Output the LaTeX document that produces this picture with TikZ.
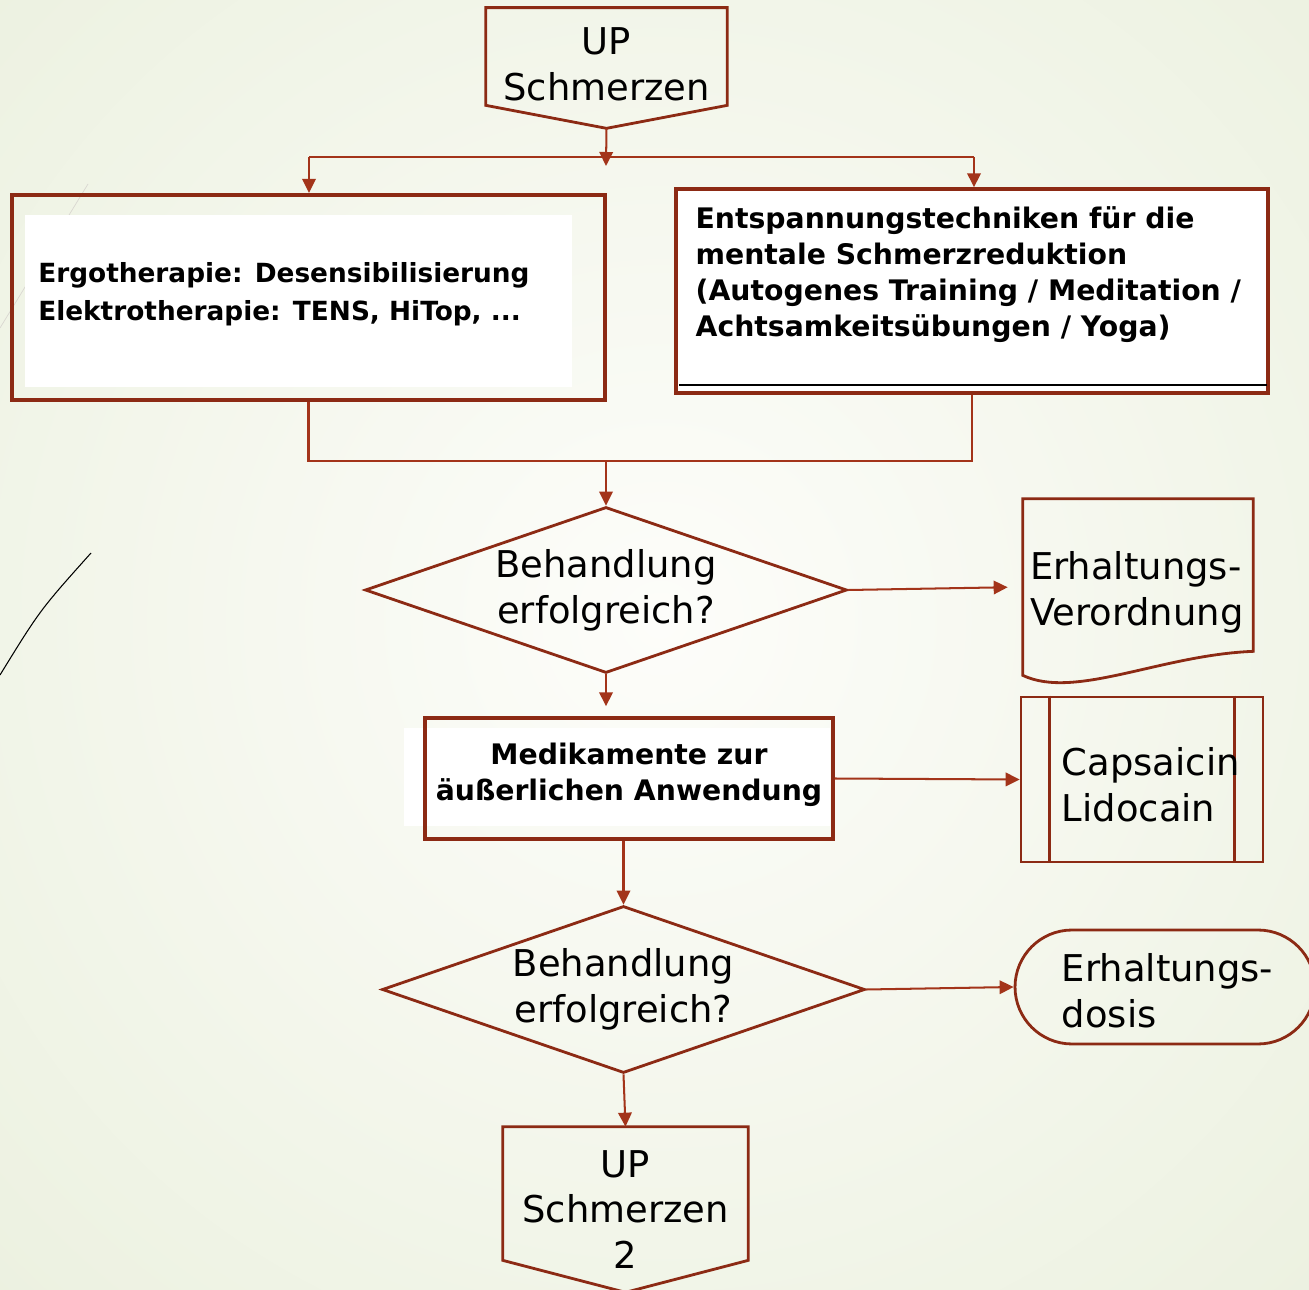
\documentclass[tikz,border=0pt]{standalone}
\usepackage{fontspec}
\setmainfont{DejaVu Sans}
\usetikzlibrary{shapes.geometric, arrows.meta, calc, positioning}
\definecolor{flowred}{RGB}{140,42,20}
\definecolor{linkred}{RGB}{163,52,26}
\definecolor{bgin}{RGB}{253,253,250}
\definecolor{bgout}{RGB}{226,234,209}
\definecolor{stroke}{RGB}{128,122,100}

\begin{document}
\begin{tikzpicture}[x=0.02cm, y=-0.02cm, >={Triangle[length=0.28cm, width=0.27cm]},
        main/.style = {draw=none, inner sep=0pt, font=\fontsize{21}{26}\selectfont, align=center},
        plain/.style = {draw=none, inner sep=0pt, font=\fontsize{15}{21.5}\selectfont\bfseries, align=left},
        box/.style = {rectangle, draw=flowred, line width=2pt, inner sep=0pt},
        outline/.style = {draw=flowred, line width=1.6pt},
        decision/.style = {diamond, draw=flowred, line width=1.6pt, inner sep=0pt, aspect=2.9,
            font=\fontsize{21}{26}\selectfont, align=center},
        link/.style = {draw=linkred, line width=1.15pt}]
            \useasboundingbox (0,0) rectangle (1309,1290);
            \shade[inner color=bgin, outer color=bgout] (660,620) circle (1500);
            \draw[stroke, line width=0.6pt] (0,675) .. controls (40,610) .. (91,553);
            \draw[stroke!30, line width=0.4pt] (88,184) -- (0,328);

            % start
            \node[main, minimum width=4.82cm, minimum height=2.4cm] (up) at (606.5,68) {};
            \node[main, yshift=0.07cm] (uptxt) at (up) {UP\\Schmerzen};
            \draw[outline] (up.north west) -- (up.north east) -- ($(up.south east)+(0,-23)$)
                -- (up.south) -- ($(up.south west)+(0,-23)$) -- cycle;

            % two therapies
            \fill[white] (25,215) rectangle (572,387);
            \node[box, line width=2.4pt, minimum width=11.86cm, minimum height=4.1cm] (ergo) at (308.5,297.5) {};
            \node[plain, right=0.56cm of ergo.west, yshift=0.06cm] (ergotxt)
                {Ergotherapie: Desensibilisierung\\Elektrotherapie: TENS, HiTop, ...};
            \node[box, fill=white, minimum width=11.84cm, minimum height=4.08cm] (ents) at (972,291) {};
            \node[plain, font=\fontsize{16.1}{20.5}\selectfont\bfseries, below right=0.38cm and 0.42cm of ents.north west] (entstxt)
                {Entspannungstechniken für die\\mentale Schmerzreduktion\\(Autogenes Training / Meditation /\\Achtsamkeitsübungen / Yoga)};
            \draw[black, line width=1.2pt] ($(ents.south west)+(5,-10)$) -- ($(ents.south east)+(-3,-10)$);

            \coordinate (fork) at (606,166);
            \coordinate (forkl) at (309,157);
            \coordinate (forkr) at (974,157);
            \draw[link, ->] (up.south) -- (fork);
            \draw[link] (forkl) -- (forkr);
            \draw[link, ->] (forkl) -- (forkl |- ergo.north);
            \draw[link, ->] (forkr) -- (forkr |- ents.north);

            % first check
            \node[decision, minimum width=9.64cm, minimum height=3.32cm] (dec1) at (606,590) {Behandlung\\erfolgreich?};
            \coordinate (join) at (606,461);
            \draw[link] (ergo.south) |- (join) -| (ents.south);
            \draw[link, ->] (join) -- (dec1.north);

            \node[main, minimum width=4.6cm, minimum height=3.52cm] (erhv) at (1138,587) {};
            \draw[outline] (erhv.south west) -- (erhv.north west) -- (erhv.north east) -- ($(erhv.south east)+(0,-24)$)
                .. controls (1160,655) and (1075,700) .. cycle;
            \node[main, align=left, right=0.14cm of erhv.west, yshift=-0.1cm] (erhvtxt) {Erhaltungs-\\Verordnung};
            \draw[link, ->, shorten >=0.3cm] (dec1.east) -- (erhv.west);

            % topical drugs
            \fill[white] (404,728) rectangle (830,826);
            \node[box, minimum width=8.16cm, minimum height=2.42cm] (medi) at (629,778.5) {};
            \node[plain, font=\fontsize{16.1}{20.5}\selectfont\bfseries, align=center, yshift=0.08cm] (meditxt)
                at (medi) {Medikamente zur\\äußerlichen Anwendung};
            \draw[link, ->, shorten >=0.2cm] (dec1.south) -- (dec1.south |- medi.north);

            \node[box, line width=1.6pt, minimum width=4.84cm, minimum height=3.3cm] (caps) at (1142,779.5) {};
            \draw[outline] ($(caps.north west)+(30,0)$) -- ($(caps.south west)+(30,0)$);
            \draw[outline] ($(caps.north east)+(-30,0)$) -- ($(caps.south east)+(-30,0)$);
            \node[main, align=left, right=0.84cm of caps.west, yshift=-0.1cm] (capstxt) {Capsaicin\\Lidocain};
            \draw[link, ->] (medi.east) -- (caps.west);

            % second check
            \node[decision, minimum width=9.66cm, minimum height=3.34cm] (dec2) at (623.5,989.5) {Behandlung\\erfolgreich?};
            \draw[link, ->] (dec2.north |- medi.south) -- (dec2.north);

            \node[box, line width=1.6pt, rounded corners=1.14cm, minimum width=6cm, minimum height=2.28cm] (erhd) at (1165,987) {};
            \node[main, align=left, right=0.96cm of erhd.west, yshift=-0.08cm] (erhdtxt) {Erhaltungs-\\dosis};
            \draw[link, ->] (dec2.east) -- (erhd.west);

            % next step
            \node[main, minimum width=4.9cm, minimum height=3.3cm] (up2) at (625.5,1209.5) {UP\\Schmerzen\\2};
            \draw[outline] (up2.north west) -- (up2.north east) -- ($(up2.south east)+(0,-32)$)
                -- (up2.south) -- ($(up2.south west)+(0,-32)$) -- cycle;
            \draw[link, ->] (dec2.south) -- (up2.north);
        \end{tikzpicture}
\end{document}
